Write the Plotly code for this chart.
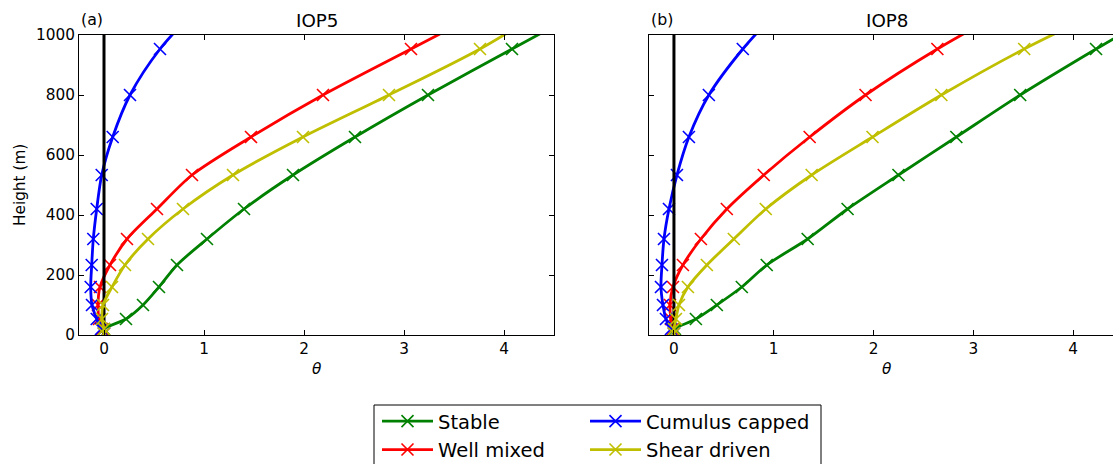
import plotly.graph_objects as go

# Model theta levels (m)
heights = [5, 20, 53.3, 100, 160, 233.3, 320, 420, 533.3, 660, 800, 953.3, 1120]

# IOP5 theta profiles
iop5_stable = [0.0, 0.0, 0.22, 0.39, 0.55, 0.73, 1.03, 1.40, 1.89, 2.51, 3.24, 4.08, 5.00]
iop5_well_mixed = [0.0, -0.02, -0.05, -0.06, -0.04, 0.06, 0.23, 0.53, 0.88, 1.47, 2.19, 3.07, 4.03]
iop5_cumulus = [0.0, -0.03, -0.073, -0.12, -0.133, -0.123, -0.107, -0.073, -0.023, 0.087, 0.26, 0.56, 1.02]
iop5_shear = [0.0, 0.0, -0.02, -0.01, 0.08, 0.21, 0.44, 0.79, 1.29, 1.99, 2.85, 3.76, 4.58]

# IOP8 theta profiles
iop8_stable = [0.0, 0.01, 0.22, 0.43, 0.68, 0.93, 1.34, 1.74, 2.25, 2.83, 3.47, 4.23, 5.09]
iop8_well_mixed = [0.0, -0.01, -0.03, -0.04, -0.01, 0.09, 0.27, 0.53, 0.90, 1.36, 1.92, 2.64, 3.53]
iop8_cumulus = [0.0, -0.03, -0.08, -0.11, -0.13, -0.12, -0.10, -0.05, 0.03, 0.15, 0.35, 0.69, 1.15]
iop8_shear = [0.0, 0.0, 0.02, 0.05, 0.14, 0.33, 0.60, 0.92, 1.38, 1.99, 2.68, 3.51, 4.54]

panel_titles = ["IOP5", "IOP8"]
panel_letters = ["(a)", "(b)"]
y_ticks = [0, 200, 400, 600, 800, 1000]
x_ticks = [0, 1, 2, 3, 4]

W, H = 1113, 464
FONT = "DejaVu Sans"

def px(x):
    return x / W

def py(y):
    return 1 - y / H

series = [
    ("Stable", "#008000", iop5_stable, iop8_stable, "legend"),
    ("Well mixed", "#ff0000", iop5_well_mixed, iop8_well_mixed, "legend"),
    ("Cumulus capped", "#0000ff", iop5_cumulus, iop8_cumulus, "legend2"),
    ("Shear driven", "#bfbf00", iop5_shear, iop8_shear, "legend2"),
]

fig = go.Figure()

for panel in range(2):
    xa = "x" if panel == 0 else "x2"
    ya = "y" if panel == 0 else "y2"
    for i, (name, color, v5, v8, leg) in enumerate(series):
        vals = v5 if panel == 0 else v8
        fig.add_trace(go.Scatter(
            x=vals, y=heights, name=name, mode="lines+markers",
            line=dict(color=color, width=2.8, shape="spline", smoothing=0.8),
            marker=dict(symbol="x-thin", size=12, line=dict(color=color, width=1.6)),
            xaxis=xa, yaxis=ya, legend=leg, showlegend=(panel == 0),
        ))
        if name == "Cumulus capped":
            # zero reference line
            fig.add_trace(go.Scatter(
                x=[0, 0], y=[0, 1000], mode="lines",
                line=dict(color="black", width=3), xaxis=xa, yaxis=ya,
                showlegend=False, hoverinfo="skip",
            ))

axis_common = dict(
    showline=True, linecolor="black", linewidth=1,
    ticks="inside", ticklen=5, tickwidth=1, tickcolor="black",
    showgrid=False, zeroline=False,
    tickfont=dict(family=FONT, size=15.3, color="black"),
)

legend_font = dict(family=FONT, size=19.5, color="black")

fig.update_layout(
    width=W, height=H,
    margin=dict(l=0, r=0, t=0, b=0, autoexpand=False),
    paper_bgcolor="white", plot_bgcolor="white",
    font=dict(family=FONT, color="black"),
    xaxis=dict(domain=[px(79), px(554)], range=[-0.25, 4.5], tickvals=x_ticks,
               mirror="ticks", anchor="y", **axis_common),
    yaxis=dict(domain=[py(335), py(35)], range=[0, 1000], tickvals=y_ticks,
               mirror="ticks", anchor="x", **axis_common),
    xaxis2=dict(domain=[px(649), 1.0], range=[-0.25, 4.40], tickvals=x_ticks,
                mirror="ticks", anchor="y2", **axis_common),
    yaxis2=dict(domain=[py(335), py(35)], range=[0, 1000], tickvals=y_ticks,
                showticklabels=False, anchor="x2", **axis_common),
    legend=dict(x=px(377), y=py(402), xanchor="left", yanchor="top",
                font=legend_font, bgcolor="rgba(0,0,0,0)", itemwidth=51,
                tracegroupgap=0),
    legend2=dict(x=px(585), y=py(402), xanchor="left", yanchor="top",
                 font=legend_font, bgcolor="rgba(0,0,0,0)", itemwidth=51,
                 tracegroupgap=0),
)

# legend frame
fig.add_shape(type="rect", xref="paper", yref="paper",
              x0=px(374), x1=px(821), y0=py(475), y1=py(405),
              line=dict(color="black", width=1), fillcolor="rgba(0,0,0,0)")

annotations = []
centers = [(79 + 554) / 2, (649 + 1124) / 2]
lefts = [79, 649]
for i in range(2):
    annotations.append(dict(text=panel_titles[i], x=px(centers[i]), y=py(33),
                            xref="paper", yref="paper", xanchor="center", yanchor="bottom",
                            showarrow=False, font=dict(family=FONT, size=18.3, color="black")))
    annotations.append(dict(text=panel_letters[i], x=px(lefts[i]), y=py(31),
                            xref="paper", yref="paper", xanchor="left", yanchor="bottom",
                            showarrow=False, font=dict(family=FONT, size=15.8, color="black")))
    annotations.append(dict(text="<i>θ</i>", x=px(lefts[i] + 237.5), y=py(358),
                            xref="paper", yref="paper", xanchor="center", yanchor="top",
                            showarrow=False, font=dict(family=FONT, size=15.3, color="black")))
annotations.append(dict(text="Height (m)", x=px(20), y=py(185), textangle=-90,
                        xref="paper", yref="paper", xanchor="center", yanchor="middle",
                        showarrow=False, font=dict(family=FONT, size=15.3, color="black")))
fig.update_layout(annotations=annotations)

fig.write_html("out.html")
